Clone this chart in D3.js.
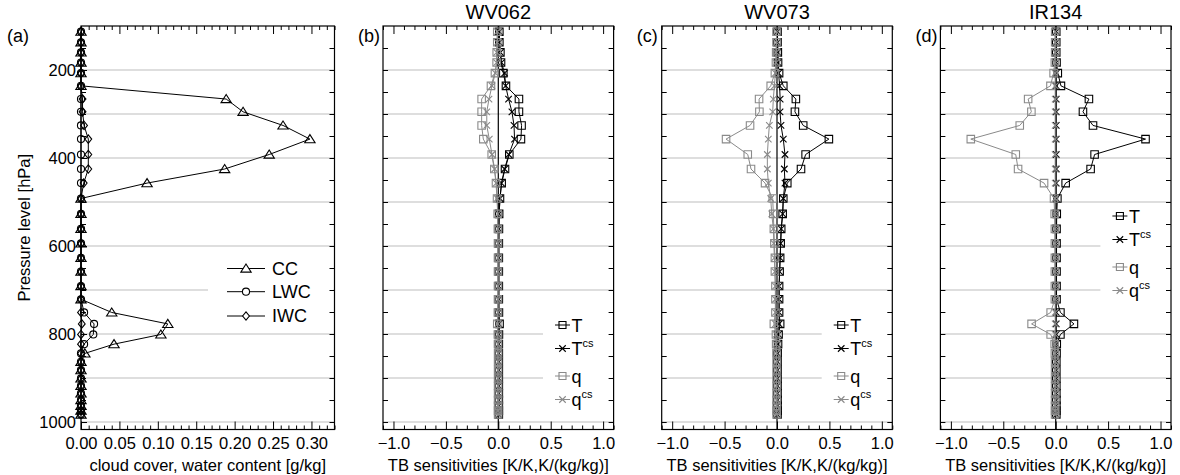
<!DOCTYPE html>
<html><head><meta charset="utf-8">
<script src="https://cdn.jsdelivr.net/npm/d3@7"></script>
<style>
body{margin:0;background:#fff}
text{font-family:"Liberation Sans",Arial,Helvetica,sans-serif;fill:#000}
</style>
</head><body>
<svg id="chart" width="1180" height="475"></svg>
<script>
// ---------------- DATA ----------------
const levels = [113,137,160,183,207,236,266,295,326,357,392,425,457,492,527,561,594,627,658,691,721,751,777,801,823,844,863,882,901,918,935,950,963,974,983];

// panel (a): cloud cover and water contents
const cc  = [0,0,0,0,0,0,0.189,0.211,0.263,0.298,0.245,0.187,0.086,0,0,0,0,0,0,0,0,0.040,0.113,0.104,0.043,0.005,0,0,0,0,0,0,0,0,0];
const lwc = [0,0,0,0,0,0,0,0,0,0,0,0,0,0,0,0,0,0,0,0,0,0.004,0.017,0.016,0.004,0,0,0,0,0,0,0,0,0,0];
const iwc = [0,0,0,0,0,0,0.002,0.002,0.004,0.0095,0.0095,0.0095,0.0035,0,0,0,0,0,0,0,0,0,0.001,0,0,0,0,0,0,0,0,0,0,0,0];

// panel (b): WV062
const wv062_T   = [0.01,0.01,0.02,0.026,0.048,0.073,0.197,0.197,0.222,0.216,0.105,0.064,0.032,0.016,0.008,0.006,0.005,0.005,0.005,0.005,0.005,0.006,0.012,0.006,0.005,0.005,0.005,0.005,0.005,0.005,0.005,0.005,0.005,0.005,0.005];
const wv062_Tcs = [0.01,0.01,0.02,0.03,0.06,0.07,0.098,0.13,0.15,0.155,0.10,0.06,0.03,0.016,0.008,0.006,0.005,0.005,0.005,0.005,0.005,0.005,0.006,0.005,0.005,0.005,0.005,0.005,0.005,0.005,0.005,0.005,0.005,0.005,0.005];
const wv062_q   = [-0.01,-0.01,-0.015,-0.016,-0.032,-0.07,-0.159,-0.159,-0.159,-0.143,-0.063,-0.038,-0.022,-0.012,-0.006,-0.004,-0.003,-0.003,-0.003,-0.003,-0.003,-0.004,-0.01,-0.004,-0.003,-0.002,-0.002,-0.002,-0.002,-0.002,-0.002,-0.002,-0.002,-0.002,-0.002];
const wv062_qcs = [-0.01,-0.01,-0.015,-0.016,-0.028,-0.06,-0.089,-0.11,-0.11,-0.086,-0.06,-0.035,-0.02,-0.01,-0.005,-0.004,-0.003,-0.003,-0.003,-0.003,-0.003,-0.003,-0.004,-0.003,-0.003,-0.002,-0.002,-0.002,-0.002,-0.002,-0.002,-0.002,-0.002,-0.002,-0.002];

// panel (c): WV073
const wv073_T   = [0.005,0.005,0.008,0.01,0.02,0.06,0.18,0.171,0.25,0.495,0.273,0.229,0.098,0.06,0.054,0.04,0.035,0.03,0.025,0.02,0.02,0.02,0.03,0.015,0.01,0.006,0.005,0.005,0.005,0.005,0.005,0.005,0.005,0.005,0.005];
const wv073_Tcs = [0.005,0.005,0.008,0.01,0.015,0.025,0.03,0.029,0.038,0.06,0.076,0.07,0.076,0.06,0.054,0.04,0.035,0.03,0.025,0.02,0.02,0.02,0.02,0.015,0.01,0.006,0.005,0.005,0.005,0.005,0.005,0.005,0.005,0.005,0.005];
const wv073_q   = [-0.005,-0.005,-0.008,-0.01,-0.02,-0.06,-0.171,-0.168,-0.257,-0.486,-0.279,-0.248,-0.114,-0.041,-0.035,-0.03,-0.025,-0.02,-0.02,-0.015,-0.015,-0.015,-0.03,-0.01,-0.008,-0.005,-0.004,-0.004,-0.004,-0.004,-0.004,-0.004,-0.004,-0.004,-0.004];
const wv073_qcs = [-0.005,-0.005,-0.008,-0.01,-0.015,-0.025,-0.035,-0.041,-0.073,-0.083,-0.092,-0.092,-0.083,-0.06,-0.05,-0.035,-0.03,-0.025,-0.02,-0.015,-0.015,-0.015,-0.015,-0.01,-0.008,-0.005,-0.004,-0.004,-0.004,-0.004,-0.004,-0.004,-0.004,-0.004,-0.004];

// panel (d): IR134
const ir134_T   = [0.005,0.005,0.005,0.008,0.02,0.05,0.317,0.26,0.356,0.857,0.371,0.333,0.095,0.016,0.01,0.008,0.008,0.008,0.008,0.008,0.008,0.045,0.174,0.045,0.01,0.008,0.006,0.006,0.006,0.006,0.006,0.006,0.006,0.006,0.006];
const ir134_Tcs = [0.005,0.005,0.005,0.005,0.005,0.005,0.005,0.005,0.005,0.005,0.005,0.005,0.005,0.005,0.005,0.005,0.005,0.005,0.005,0.005,0.005,0.005,0.005,0.005,0.005,0.005,0.005,0.005,0.005,0.005,0.005,0.005,0.005,0.005,0.005];
const ir134_q   = [-0.005,-0.005,-0.005,-0.008,-0.02,-0.05,-0.263,-0.232,-0.343,-0.81,-0.381,-0.359,-0.111,-0.016,-0.01,-0.008,-0.008,-0.008,-0.008,-0.008,-0.008,-0.048,-0.23,-0.048,-0.01,-0.008,-0.006,-0.006,-0.006,-0.006,-0.006,-0.006,-0.006,-0.006,-0.006];
const ir134_qcs = [-0.005,-0.005,-0.005,-0.005,-0.005,-0.005,-0.005,-0.005,-0.005,-0.005,-0.005,-0.005,-0.005,-0.005,-0.005,-0.005,-0.005,-0.005,-0.005,-0.005,-0.005,-0.005,-0.005,-0.005,-0.005,-0.005,-0.005,-0.005,-0.005,-0.005,-0.005,-0.005,-0.005,-0.005,-0.005];

const channels = ["WV062","WV073","IR134"];
const panelLetters = ["(a)","(b)","(c)","(d)"];
const pressureTickLabels = [200,400,600,800,1000];
const gridLevels = [200,300,400,500,600,700,800,900,1000];
const ccTickLabels = [0,0.05,0.10,0.15,0.20,0.25,0.30];
const sensTickLabels = [-1.0,-0.5,0.0,0.5,1.0];
const ccLegend = ["CC","LWC","IWC"];

// ---------------- LAYOUT ----------------
const svg = d3.select("#chart");
const TOP = 26, BOT = 429.5;
const y = d3.scaleLinear().domain([100,1017]).range([TOP,BOT]);
const GRAY = "#8a8a8a", GRID = "#bdbdbd";
const FS = 16.5;

function markerPath(type, s){
  const h = s/2;
  if(type==="tri") return `M0,${-h}L${h*1.15},${h*0.8}L${-h*1.15},${h*0.8}Z`;
  if(type==="dia") return `M0,${-h*1.05}L${h*0.85},0L0,${h*1.05}L${-h*0.85},0Z`;
  if(type==="sq") return `M${-h},${-h}H${h}V${h}H${-h}Z`;
  if(type==="x") return `M${-h},${-h}L${h},${h}M${-h},${h}L${h},${-h}`;
  if(type==="circ") return d3.symbol(d3.symbolCircle, s*s*0.62)();
  return "";
}

function frameAndAxes(g, x, x0, x1, opts){
  g.append("g").selectAll("line").data(gridLevels).join("line")
    .attr("x1",x0).attr("x2",x1).attr("y1",d=>y(d)).attr("y2",d=>y(d))
    .attr("stroke",GRID).attr("stroke-width",1.2);
  if(opts.box){
    g.append("rect").attr("x",opts.box[0]).attr("y",opts.box[1])
      .attr("width",x1-opts.box[0]-1).attr("height",opts.box[2]-opts.box[1]).attr("fill","#fff");
  }
  const yl = d3.axisLeft(y).tickValues(opts.yLabels ? pressureTickLabels : []).tickSize(-6).tickPadding(5).tickFormat(d3.format("d"));
  const gl = g.append("g").attr("transform",`translate(${x0},0)`).call(yl);
  const yMinor = d3.range(150,1001,50);
  const gl2 = g.append("g").attr("transform",`translate(${x0},0)`).call(d3.axisLeft(y).tickValues(yMinor).tickSize(-5).tickFormat(""));
  const gr = g.append("g").attr("transform",`translate(${x1},0)`).call(d3.axisRight(y).tickValues(yMinor).tickSize(-5).tickFormat(""));
  const gb = g.append("g").attr("transform",`translate(0,${BOT})`).call(
    d3.axisBottom(x).tickValues(opts.xLabels).tickSize(-8).tickPadding(8).tickFormat(opts.fmt));
  const gb2 = g.append("g").attr("transform",`translate(0,${BOT})`).call(
    d3.axisBottom(x).tickValues(opts.xMinor).tickSize(-4).tickFormat(""));
  const gt = g.append("g").attr("transform",`translate(0,${TOP})`).call(
    d3.axisTop(x).tickValues(opts.xLabels).tickSize(-8).tickFormat(""));
  const gt2 = g.append("g").attr("transform",`translate(0,${TOP})`).call(
    d3.axisTop(x).tickValues(opts.xMinor).tickSize(-4).tickFormat(""));
  [gl,gl2,gr,gb,gb2,gt,gt2].forEach(a=>{
    a.select(".domain").remove();
    a.selectAll("line").attr("stroke","#000").attr("stroke-width",1);
    a.selectAll("text").attr("font-size",FS).attr("font-family","Liberation Sans, Arial, sans-serif").attr("fill","#000");
  });
  return g;
}

function drawFrame(g,x0,x1){
  g.append("rect").attr("x",x0).attr("y",TOP).attr("width",x1-x0).attr("height",BOT-TOP)
    .attr("fill","none").attr("stroke","#000").attr("stroke-width",1.2);
}

function series(g, x, vals, color, mk, ms){
  const pts = levels.map((p,i)=>[x(vals[i]), y(p)]);
  g.append("path").attr("d",d3.line()(pts)).attr("fill","none").attr("stroke",color).attr("stroke-width",1);
  g.append("g").selectAll("path").data(pts).join("path")
    .attr("transform",d=>`translate(${d[0]},${d[1]})`)
    .attr("d",markerPath(mk,ms)).attr("fill","none").attr("stroke",color).attr("stroke-width",1.1);
}

// ---------------- PANEL (a) ----------------
{
  const x0=81, x1=334.5;
  const x = d3.scaleLinear().domain([0,0.33]).range([x0,x1]);
  const g = svg.append("g");
  frameAndAxes(g, x, x0, x1, {
    yLabels:true, xLabels:ccTickLabels, xMinor:d3.range(0,0.331,0.01).filter(v=>Math.abs(v*20-Math.round(v*20))>1e-6),
    fmt:d3.format(".2f"), box:[208,255,328]});
  series(g, x, cc, "#000", "tri", 9);
  series(g, x, lwc, "#000", "circ", 8);
  series(g, x, iwc, "#000", "dia", 8);
  drawFrame(g,x0,x1);
  const lg = g.append("g");
  const ly = [268.5, 291.7, 316];
  const mk = ["tri","circ","dia"];
  ccLegend.forEach((t,i)=>{
    lg.append("line").attr("x1",227).attr("x2",265).attr("y1",ly[i]).attr("y2",ly[i]).attr("stroke","#000");
    lg.append("path").attr("transform",`translate(246,${ly[i]})`).attr("d",markerPath(mk[i], i===0?9:8))
      .attr("fill","#fff").attr("stroke","#000").attr("stroke-width",1.1);
    lg.append("text").attr("x",272).attr("y",ly[i]+6.3).attr("font-size",18).text(t);
  });
  g.append("text").attr("x",(x0+x1)/2).attr("y",471).attr("text-anchor","middle").attr("font-size",FS)
    .text("cloud cover, water content [g/kg]");
  g.append("text").attr("transform",`translate(30,${(TOP+BOT)/2}) rotate(-90)`).attr("text-anchor","middle")
    .attr("font-size",FS).text("Pressure level [hPa]");
  g.append("text").attr("x",7).attr("y",42).attr("font-size",18).text(panelLetters[0]);
}

// ---------------- PANELS (b)-(d) ----------------
const sensData = [
  [wv062_T, wv062_Tcs, wv062_q, wv062_qcs],
  [wv073_T, wv073_Tcs, wv073_q, wv073_qcs],
  [ir134_T, ir134_Tcs, ir134_q, ir134_qcs]
];
const legendTop = [325, 325, 216];
channels.forEach((ch, k)=>{
  const x0 = 383 + k*278.7, x1 = x0 + 230.6;
  const x = d3.scaleLinear().domain([-1.1,1.1]).range([x0,x1]);
  const g = svg.append("g");
  const lt = legendTop[k];
  frameAndAxes(g, x, x0, x1, {
    yLabels:false, xLabels:sensTickLabels,
    xMinor:d3.range(-11,12,1).map(v=>v/10).filter(v=>Math.abs(v*2-Math.round(v*2))>1e-6),
    fmt:d3.format(".1f"), box:[x0+160, lt-12, lt+87]});
  g.append("line").attr("x1",x(0)).attr("x2",x(0)).attr("y1",TOP).attr("y2",BOT).attr("stroke","#000").attr("stroke-width",1.2);
  const [T,Tcs,q,qcs] = sensData[k];
  series(g, x, T, "#000", "sq", 7.5);
  series(g, x, Tcs, "#000", "x", 6.5);
  series(g, x, q, GRAY, "sq", 7.5);
  series(g, x, qcs, GRAY, "x", 6.5);
  drawFrame(g,x0,x1);
  const lyOff = [0, 23.5, 51, 74.5];
  const cols = ["#000","#000",GRAY,GRAY];
  const mks = ["sq","x","sq","x"];
  const labs = [["T",""],["T","cs"],["q",""],["q","cs"]];
  lyOff.forEach((o,i)=>{
    const yy = lt+o;
    g.append("line").attr("x1",x0+172).attr("x2",x0+187).attr("y1",yy).attr("y2",yy).attr("stroke",cols[i]);
    g.append("path").attr("transform",`translate(${x0+179.5},${yy})`).attr("d",markerPath(mks[i], mks[i]==="sq"?7:6.5))
      .attr("fill","none").attr("stroke",cols[i]).attr("stroke-width",1.1);
    const t = g.append("text").attr("x",x0+188.5).attr("y",yy+6.5).attr("font-size",18);
    t.append("tspan").text(labs[i][0]);
    if(labs[i][1]) t.append("tspan").attr("dy",-8).attr("font-size",11).text(labs[i][1]);
  });
  g.append("text").attr("x",x(0)).attr("y",471).attr("text-anchor","middle").attr("font-size",FS)
    .text("TB sensitivities [K/K,K/(kg/kg)]");
  g.append("text").attr("x",x(0)).attr("y",19).attr("text-anchor","middle").attr("font-size",20).text(ch);
  g.append("text").attr("x",x0-25).attr("y",42).attr("font-size",18).text(panelLetters[k+1]);
});
</script>
</body></html>
